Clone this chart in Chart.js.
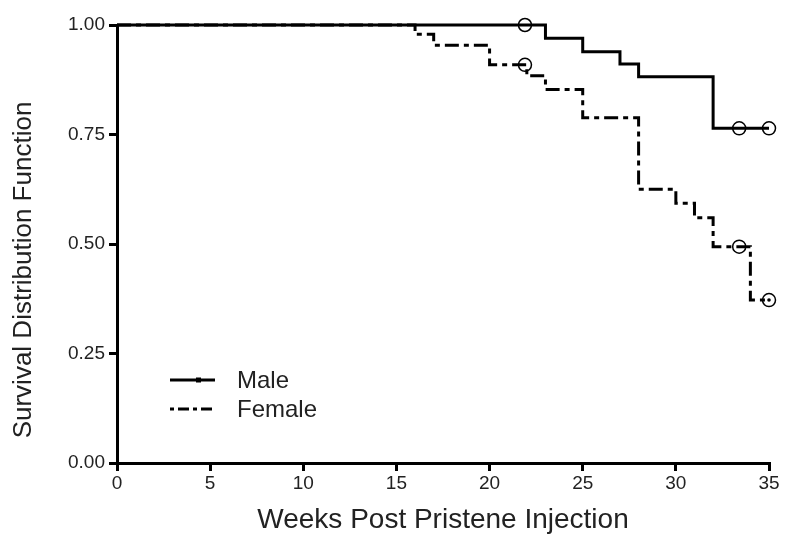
<!DOCTYPE html>
<html>
<head>
<meta charset="utf-8">
<script src="https://cdn.jsdelivr.net/npm/chart.js@4.4.1/dist/chart.umd.min.js"></script>
<style>
  html, body { margin: 0; padding: 0; background: #fff; }
  #wrap { width: 796px; height: 545px; }
</style>
</head>
<body>
<div id="wrap"><canvas id="km" width="796" height="545"></canvas></div>
<script>
// Kaplan-Meier curves (weeks, survival)
const maleWeeks = [0, 23, 25, 27, 28, 32, 35];
const maleSurv = [1.0, 0.970, 0.939, 0.911, 0.882, 0.764, 0.764];
const femaleWeeks = [0, 16, 17, 20, 22, 23, 25, 28, 30, 31, 32, 34, 35];
const femaleSurv = [1.0, 0.979, 0.954, 0.909, 0.884, 0.853, 0.788, 0.625, 0.593, 0.560, 0.494, 0.372, 0.372];

// censored observations (open circles)
const maleCensWeeks = [21.9, 33.4, 35];
const maleCensSurv = [1.0, 0.764, 0.764];
const femaleCensWeeks = [21.9, 33.4, 35];
const femaleCensSurv = [0.909, 0.494, 0.372];

const xTicks = [0, 5, 10, 15, 20, 25, 30, 35];
const yTicks = [0, 0.25, 0.5, 0.75, 1.0];
const legendLabels = ["Male", "Female"];
const yTitulo = "Survival Distribution Function";

const femaleDash = [14, 5, 5, 5];
const fuente = "'Liberation Sans', Arial, sans-serif";

function punti(xs, ys) {
  return xs.map((x, i) => ({ x: x, y: ys[i] }));
}

// leyenda dibujada dentro del área del gráfico + título del eje y
const leyendaInterna = {
  id: "leyendaInterna",
  afterDraw(chart) {
    const ctx = chart.ctx;
    const a = chart.chartArea;
    const x0 = a.left + 53, x1 = a.left + 98;
    const filas = [a.top + 355, a.top + 384];
    ctx.save();
    ctx.strokeStyle = "#000";
    ctx.lineWidth = 3;
    // Male
    ctx.setLineDash([]);
    ctx.beginPath();
    ctx.moveTo(x0, filas[0]);
    ctx.lineTo(x1, filas[0]);
    ctx.stroke();
    ctx.fillStyle = "#000";
    ctx.fillRect(x0 + 26, filas[0] - 2.5, 5, 5);
    // Female
    ctx.setLineDash([4, 4, 11, 4]);
    ctx.beginPath();
    ctx.moveTo(x0, filas[1]);
    ctx.lineTo(x1, filas[1]);
    ctx.stroke();
    ctx.setLineDash([]);
    ctx.fillStyle = "#222";
    ctx.font = "24px " + fuente;
    ctx.textBaseline = "middle";
    ctx.textAlign = "left";
    legendLabels.forEach((t, i) => ctx.fillText(t, x1 + 22, filas[i] + 1));

    // título del eje y, algo por debajo del centro como en el original
    ctx.translate(24, (a.top + a.bottom) / 2 + 26);
    ctx.rotate(-Math.PI / 2);
    ctx.textAlign = "center";
    ctx.font = "26px " + fuente;
    ctx.fillText(yTitulo, 0, 0);
    ctx.restore();
  }
};

const ctx = document.getElementById("km").getContext("2d");
const chart = new Chart(ctx, {
  type: "line",
  data: {
    datasets: [
      {
        label: "Male",
        data: punti(maleWeeks, maleSurv),
        stepped: true,
        borderColor: "#000",
        borderWidth: 3,
        pointRadius: 0,
        fill: false
      },
      {
        label: "Female",
        data: punti(femaleWeeks, femaleSurv),
        stepped: true,
        borderColor: "#000",
        borderWidth: 3,
        borderDash: femaleDash,
        pointRadius: 0,
        fill: false
      },
      {
        label: "Male censored",
        type: "scatter",
        data: punti(maleCensWeeks, maleCensSurv),
        showLine: false,
        pointStyle: "circle",
        pointRadius: 6.5,
        pointBackgroundColor: "rgba(255,255,255,0)",
        pointBorderColor: "#000",
        pointBorderWidth: 1.5
      },
      {
        label: "Female censored",
        type: "scatter",
        data: punti(femaleCensWeeks, femaleCensSurv),
        showLine: false,
        pointStyle: "circle",
        pointRadius: 6.5,
        pointBackgroundColor: "rgba(255,255,255,0)",
        pointBorderColor: "#000",
        pointBorderWidth: 1.5
      },
      {
        label: "Female censored dot",
        type: "scatter",
        data: punti(femaleCensWeeks.slice(2), femaleCensSurv.slice(2)),
        showLine: false,
        pointStyle: "circle",
        pointRadius: 1.8,
        pointBackgroundColor: "#000",
        pointBorderWidth: 0
      }
    ]
  },
  options: {
    responsive: false,
    animation: false,
    clip: false,
    layout: { padding: { top: 25, right: 27, left: 10, bottom: 8 } },
    plugins: {
      legend: { display: false },
      tooltip: { enabled: false }
    },
    scales: {
      x: {
        type: "linear",
        min: 0,
        max: 35,
        afterBuildTicks(scale) {
          scale.ticks = xTicks.map(v => ({ value: v }));
        },
        afterFit(scale) { scale.height = 74; },
        grid: {
          display: true,
          drawOnChartArea: false,
          drawTicks: true,
          tickLength: 8,
          color: "#000",
          lineWidth: 3
        },
        border: { display: true, color: "#000", width: 3 },
        ticks: {
          color: "#222",
          padding: 1,
          maxRotation: 0,
          font: { family: fuente, size: 19 }
        },
        title: {
          display: true,
          text: "Weeks Post Pristene Injection",
          color: "#222",
          padding: { top: 2, bottom: 0 },
          font: { family: fuente, size: 28 }
        }
      },
      y: {
        type: "linear",
        min: 0,
        max: 1,
        afterBuildTicks(scale) {
          scale.ticks = yTicks.map(v => ({ value: v }));
        },
        afterFit(scale) { scale.width = 107; },
        grid: {
          display: true,
          drawOnChartArea: false,
          drawTicks: true,
          tickLength: 8,
          color: "#000",
          lineWidth: 3
        },
        border: { display: true, color: "#000", width: 3 },
        ticks: {
          color: "#222",
          padding: 4,
          font: { family: fuente, size: 19 },
          callback: v => Number(v).toFixed(2)
        },
        title: { display: false }
      }
    }
  },
  plugins: [leyendaInterna]
});
</script>
</body>
</html>
